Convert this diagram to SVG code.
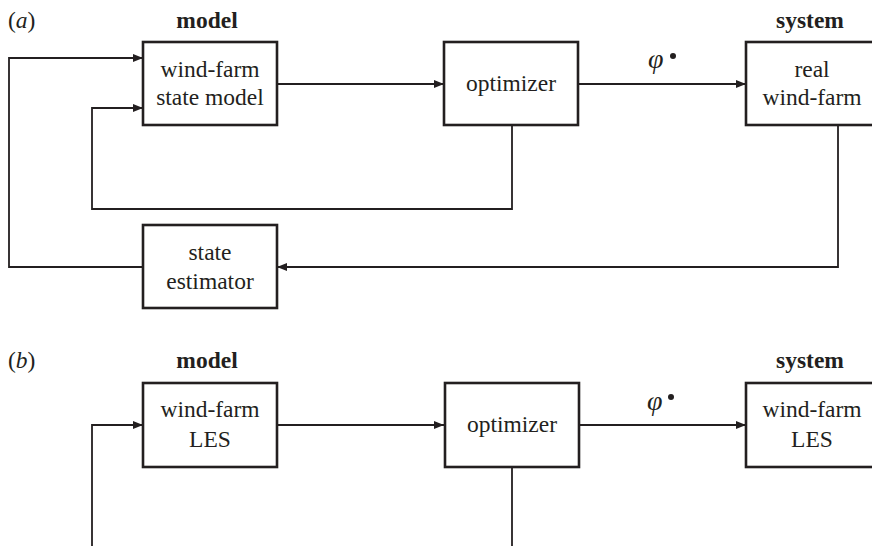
<svg xmlns="http://www.w3.org/2000/svg" width="872" height="546" viewBox="0 0 872 546">
<style>
text{font-family:"Liberation Serif","Times New Roman",Times,Tinos,"DejaVu Serif",serif;font-size:23.5px;fill:#231f20}
.box{fill:#fff;stroke:#231f20;stroke-width:2.6}
.t{text-anchor:middle}
.h{font-weight:bold;text-anchor:middle}
.phi{font-style:italic;font-size:28px}
.c{fill:none;stroke:#231f20;stroke-width:1.8}
</style>
<defs>
<marker id="ah" viewBox="0 0 10 8" refX="10" refY="4" markerWidth="10" markerHeight="8" markerUnits="userSpaceOnUse" orient="auto">
<path d="M0,0 L10,4 L0,8 z" fill="#231f20"/>
</marker>
</defs>
<g id="labels">
<text x="8" y="28">(<tspan font-style="italic">a</tspan>)</text>
<text class="h" x="207" y="28">model</text>
<text class="h" x="810" y="28">system</text>
<text x="8" y="368">(<tspan font-style="italic">b</tspan>)</text>
<text class="h" x="207" y="368">model</text>
<text class="h" x="810" y="368">system</text>
<text class="phi" x="648" y="68">φ</text>
<circle cx="673" cy="56" r="3" fill="#231f20"/>
<text class="phi" x="647" y="410">φ</text>
<circle cx="671" cy="397" r="3" fill="#231f20"/>
</g>
<g id="connectors">
<path class="c" d="M277,84 H444" marker-end="url(#ah)"/>
<path class="c" d="M578,84 H746" marker-end="url(#ah)"/>
<path class="c" d="M512,125 V209 H92 V108 H143" marker-end="url(#ah)"/>
<path class="c" d="M143,267 H9 V58 H143" marker-end="url(#ah)"/>
<path class="c" d="M838,125 V267 H277" marker-end="url(#ah)"/>
<path class="c" d="M277,425 H444" marker-end="url(#ah)"/>
<path class="c" d="M579,425 H746" marker-end="url(#ah)"/>
<path class="c" d="M512,467 V546"/>
<path class="c" d="M92,546 V425 H143" marker-end="url(#ah)"/>
</g>
<g id="a-model">
<rect class="box" x="143" y="42" width="134" height="83"/>
<text class="t" x="210" y="77">wind-farm</text>
<text class="t" x="210" y="105">state model</text>
</g>
<g id="a-optimizer">
<rect class="box" x="444" y="42" width="134" height="83"/>
<text class="t" x="511" y="91">optimizer</text>
</g>
<g id="a-system">
<rect class="box" x="746" y="42" width="134" height="83"/>
<text class="t" x="812" y="77">real</text>
<text class="t" x="812" y="105">wind-farm</text>
</g>
<g id="a-estimator">
<rect class="box" x="143" y="225" width="134" height="83"/>
<text class="t" x="210" y="260">state</text>
<text class="t" x="210" y="289">estimator</text>
</g>
<g id="b-model">
<rect class="box" x="143" y="383" width="134" height="84"/>
<text class="t" x="210" y="417">wind-farm</text>
<text class="t" x="210" y="447">LES</text>
</g>
<g id="b-optimizer">
<rect class="box" x="445" y="383" width="134" height="84"/>
<text class="t" x="512" y="432">optimizer</text>
</g>
<g id="b-system">
<rect class="box" x="746" y="383" width="134" height="84"/>
<text class="t" x="812" y="417">wind-farm</text>
<text class="t" x="812" y="447">LES</text>
</g>
</svg>
